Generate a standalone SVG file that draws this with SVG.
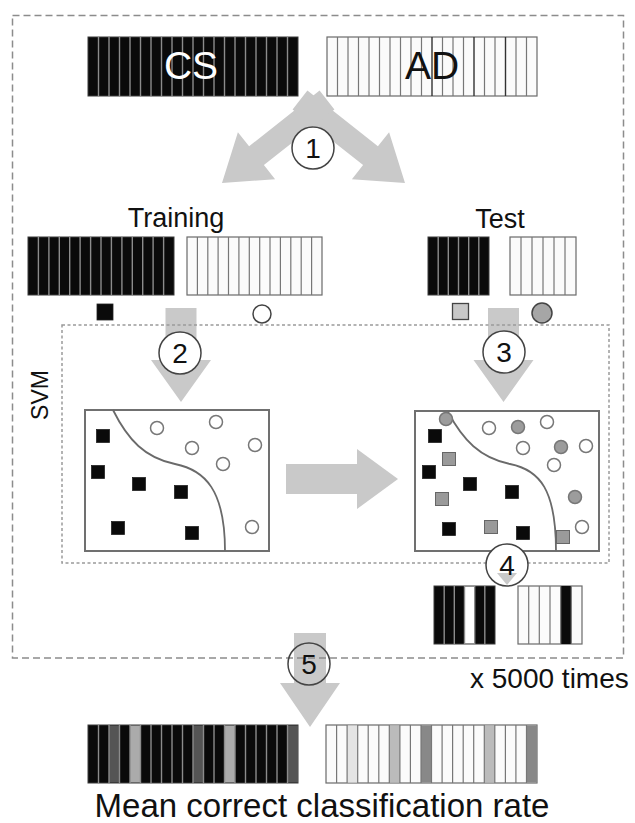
<svg xmlns="http://www.w3.org/2000/svg" width="635" height="823" viewBox="0 0 635 823">
  <style>
    text { font-family: "Liberation Sans", Arial, sans-serif; fill: #111; }
    .arrow { fill: #c9c9c9; }
    .barK { fill: #0a0a0a; stroke: #3a3a3a; stroke-width: 1; }
    .barW { fill: #fbfbfb; stroke: #6a6a6a; stroke-width: 1.2; }
    .sepK { stroke: #8c8c8c; stroke-width: 1.4; fill: none; }
    .sepW { stroke: #777; stroke-width: 1.2; fill: none; }
    .sepD { stroke: #333; stroke-width: 1.4; fill: none; }
    .frame { fill: #fff; stroke: #707070; stroke-width: 2; }
    .curve { fill: none; stroke: #6a6a6a; stroke-width: 1.8; }
    .sq { fill: #0a0a0a; stroke: #222; stroke-width: 0.8; }
    .sqg { fill: #9a9a9a; stroke: #666; stroke-width: 1; }
    .ci { fill: #fff; stroke: #777; stroke-width: 1.5; }
    .cig { fill: #9c9c9c; stroke: #777; stroke-width: 1.5; }
    .step circle { fill: #fff; stroke: #444; stroke-width: 1.5; }
    .step text { font-size: 28px; text-anchor: middle; }
  </style>

  <!-- connectors: wide gray block arrows -->
  <g id="connectors">
    <!-- step 1: split into training and test -->
    <polygon id="arrow-1-test" class="arrow" points="307.4,90.6 377.9,146.3 389.1,132.2 405,183 351.9,179.2 363.1,165.1 292.6,109.4"/>
    <polygon id="arrow-1-train" class="arrow" transform="translate(627,0) scale(-1,1)" points="307.4,90.6 377.9,146.3 389.1,132.2 405,183 351.9,179.2 363.1,165.1 292.6,109.4"/>
    <!-- step 2: training into SVM -->
    <polygon id="arrow-2" class="arrow" points="165.5,308 196.5,308 196.5,360 211,360 181,402 151,360 165.5,360"/>
    <!-- step 3: test into SVM -->
    <polygon id="arrow-3" class="arrow" points="488,308 519,308 519,360 533.5,360 503.5,402 473.5,360 488,360"/>
    <!-- trained model to classification -->
    <polygon id="arrow-svm" class="arrow" points="286,464 357,464 357,449 398,479 357,509 357,494 286,494"/>
    <!-- step 5: aggregate -->
    <polygon id="arrow-5" class="arrow" points="294,633 326,633 326,683 340,683 310,727 280,683 294,683"/>
  </g>

  <!-- repeat frame and SVM frame -->
  <g id="repeat-frame">
    <rect x="12.5" y="15.5" width="611" height="642.5" fill="none" stroke="#8c8c8c" stroke-width="1.5" stroke-dasharray="7 4"/>
  </g>
  <g id="svm-frame">
    <rect x="62" y="325" width="547" height="238" fill="none" stroke="#9a9a9a" stroke-width="1.5" stroke-dasharray="3 2.5"/>
    <text x="0" y="0" font-size="23" text-anchor="middle" transform="translate(48,395) rotate(-90)">SVM</text>
  </g>

  <!-- full data set -->
  <g id="cs-all">
    <rect class="barK" x="88" y="37" width="210" height="59"/>
    <path class="sepK" d="M98.5 37v59M109 37v59M119.5 37v59M130 37v59M140.5 37v59M151 37v59M161.5 37v59M172 37v59M182.5 37v59M193 37v59M203.5 37v59M214 37v59M224.5 37v59M235 37v59M245.5 37v59M256 37v59M266.5 37v59M277 37v59M287.5 37v59"/>
    <text x="191" y="79" font-size="39" text-anchor="middle" style="fill:#fff">CS</text>
  </g>
  <g id="ad-all">
    <rect class="barW" x="327" y="37" width="210" height="59"/>
    <path class="sepW" d="M337.5 37v59M348 37v59M358.5 37v59M369 37v59M379.5 37v59M390 37v59M400.5 37v59M411 37v59M421.5 37v59M442.5 37v59M453 37v59M463.5 37v59M484.5 37v59M495 37v59M516 37v59M526.5 37v59"/>
    <path class="sepD" d="M432 37v59M474 37v59M505.5 37v59"/>
    <text x="432" y="79" font-size="39" text-anchor="middle">AD</text>
  </g>

  <!-- training set -->
  <g id="training">
    <text x="176" y="227" font-size="27" text-anchor="middle">Training</text>
    <rect class="barK" x="28" y="237" width="146" height="58"/>
    <path class="sepK" d="M38.4 237v58M48.9 237v58M59.3 237v58M69.7 237v58M80.1 237v58M90.6 237v58M101 237v58M111.4 237v58M121.9 237v58M132.3 237v58M142.7 237v58M153.1 237v58M163.6 237v58"/>
    <rect class="barW" x="187" y="237" width="135" height="58"/>
    <path class="sepW" d="M197.4 237v58M207.8 237v58M218.1 237v58M228.5 237v58M238.9 237v58M249.3 237v58M259.7 237v58M270 237v58M280.4 237v58M290.8 237v58M301.2 237v58M311.6 237v58"/>
    <rect class="sq" x="97" y="304" width="16" height="16"/>
    <circle class="ci" cx="262" cy="314" r="9" style="stroke:#444"/>
  </g>

  <!-- test set -->
  <g id="test">
    <text x="500" y="228" font-size="27" text-anchor="middle">Test</text>
    <rect class="barK" x="428" y="237" width="61" height="58"/>
    <path class="sepK" d="M438.2 237v58M448.3 237v58M458.5 237v58M468.7 237v58M478.8 237v58"/>
    <rect class="barW" x="510" y="237" width="66" height="58"/>
    <path class="sepW" d="M521 237v58M532 237v58M543 237v58M554 237v58M565 237v58"/>
    <rect x="452.5" y="303.5" width="16" height="16" fill="#c8c8c8" stroke="#444" stroke-width="1.3"/>
    <circle cx="542" cy="313" r="10" fill="#a6a6a6" stroke="#444" stroke-width="1.5"/>
  </g>

  <!-- SVM training plot -->
  <g id="svm-train">
    <rect class="frame" x="85" y="410" width="184" height="141"/>
    <path class="curve" d="M113,410 C128,440 145,458 175,464 C205,470 225,490 225,551"/>
    <rect class="sq" x="96.5" y="429.5" width="13" height="13"/>
    <rect class="sq" x="91.5" y="465.5" width="13" height="13"/>
    <rect class="sq" x="132.5" y="477.5" width="13" height="13"/>
    <rect class="sq" x="174.5" y="485.5" width="13" height="13"/>
    <rect class="sq" x="111.5" y="521.5" width="13" height="13"/>
    <rect class="sq" x="185.5" y="526.5" width="13" height="13"/>
    <circle class="ci" cx="157" cy="428" r="6.5"/>
    <circle class="ci" cx="216" cy="422" r="6.5"/>
    <circle class="ci" cx="192" cy="448" r="6.5"/>
    <circle class="ci" cx="255" cy="445" r="6.5"/>
    <circle class="ci" cx="223" cy="464" r="6.5"/>
    <circle class="ci" cx="252" cy="527" r="6.5"/>
  </g>

  <!-- SVM classification plot -->
  <g id="svm-test">
    <rect class="frame" x="415" y="411" width="184" height="140"/>
    <path class="curve" d="M448,412 C463,440 480,458 510,464 C540,470 556,490 556,551"/>
    <rect class="sq" x="428.5" y="429.5" width="13" height="13"/>
    <rect class="sq" x="422.5" y="465.5" width="13" height="13"/>
    <rect class="sq" x="463.5" y="477.5" width="13" height="13"/>
    <rect class="sq" x="505.5" y="485.5" width="13" height="13"/>
    <rect class="sq" x="442.5" y="522.5" width="13" height="13"/>
    <rect class="sq" x="516.5" y="526.5" width="13" height="13"/>
    <rect class="sqg" x="442.5" y="452.5" width="13" height="13"/>
    <rect class="sqg" x="435.5" y="492.5" width="13" height="13"/>
    <rect class="sqg" x="484.5" y="520.5" width="13" height="13"/>
    <rect class="sqg" x="556.5" y="530.5" width="13" height="13"/>
    <circle class="cig" cx="446" cy="419" r="6.5"/>
    <circle class="ci" cx="489" cy="428" r="6.5"/>
    <circle class="cig" cx="518" cy="427" r="6.5"/>
    <circle class="ci" cx="547" cy="422" r="6.5"/>
    <circle class="ci" cx="523" cy="448" r="6.5"/>
    <circle class="cig" cx="561" cy="447" r="6.5"/>
    <circle class="ci" cx="586" cy="446" r="6.5"/>
    <circle class="ci" cx="554" cy="465" r="6.5"/>
    <circle class="cig" cx="575" cy="497" r="6.5"/>
    <circle class="ci" cx="582" cy="527" r="6.5"/>
  </g>

  <!-- single-run result -->
  <g id="run-result">
    <rect class="barK" x="434" y="586" width="61" height="58"/>
    <rect x="464.5" y="586.5" width="10.2" height="57" fill="#fff"/>
    <path class="sepK" d="M444.2 586v58M454.3 586v58M464.5 586v58M474.7 586v58M484.8 586v58"/>
    <rect class="barW" x="518" y="586" width="64" height="58"/>
    <rect x="560.7" y="586" width="10.6" height="58" fill="#0a0a0a"/>
    <path class="sepW" d="M528.7 586v58M539.3 586v58M550 586v58M560.7 586v58M571.3 586v58"/>
  </g>

  <text id="repeat-label" x="470" y="688" font-size="28">x 5000 times</text>

  <!-- mean result -->
  <g id="mean-result">
    <rect class="barK" x="88" y="725" width="210" height="58"/>
    <rect x="109" y="725.5" width="10.5" height="57" fill="#555"/>
    <rect x="130" y="725.5" width="10.5" height="57" fill="#ababab"/>
    <rect x="193" y="725.5" width="10.5" height="57" fill="#555"/>
    <rect x="224.5" y="725.5" width="10.5" height="57" fill="#ababab"/>
    <rect x="287.5" y="725.5" width="10.5" height="57" fill="#555"/>
    <path class="sepK" d="M98.5 725v58M109 725v58M119.5 725v58M130 725v58M140.5 725v58M151 725v58M161.5 725v58M172 725v58M182.5 725v58M193 725v58M203.5 725v58M214 725v58M224.5 725v58M235 725v58M245.5 725v58M256 725v58M266.5 725v58M277 725v58M287.5 725v58"/>
    <rect class="barW" x="326" y="725" width="211" height="58"/>
    <rect x="347.1" y="725.5" width="10.6" height="57" fill="#e4e4e4"/>
    <rect x="389.3" y="725.5" width="10.6" height="57" fill="#bbb"/>
    <rect x="421" y="725.5" width="10.5" height="57" fill="#888"/>
    <rect x="484.3" y="725.5" width="10.5" height="57" fill="#bbb"/>
    <rect x="526.5" y="725.5" width="10.5" height="57" fill="#888"/>
    <path class="sepW" d="M336.6 725v58M347.1 725v58M357.7 725v58M368.2 725v58M378.8 725v58M389.3 725v58M399.9 725v58M410.4 725v58M421 725v58M431.5 725v58M442.1 725v58M452.6 725v58M463.2 725v58M473.7 725v58M484.3 725v58M494.8 725v58M505.4 725v58M515.9 725v58M526.5 725v58"/>
    <text x="322" y="817" font-size="33" text-anchor="middle">Mean correct classification rate</text>
  </g>

  <!-- step numbers -->
  <g id="step-1" class="step"><circle cx="313" cy="148" r="21"/><text x="313" y="158">1</text></g>
  <g id="step-2" class="step"><circle cx="180" cy="353" r="21"/><text x="180" y="363">2</text></g>
  <g id="step-3" class="step"><circle cx="504" cy="352" r="21"/><text x="504" y="362">3</text></g>
  <g id="step-4" class="step">
    <circle cx="507" cy="565" r="21"/>
    <polygon class="arrow" points="497,573 517,573 507,585"/>
    <text x="507" y="575">4</text>
  </g>
  <g id="step-5" class="step"><circle cx="309" cy="664" r="21" style="fill:none"/><text x="309" y="674">5</text></g>
</svg>
